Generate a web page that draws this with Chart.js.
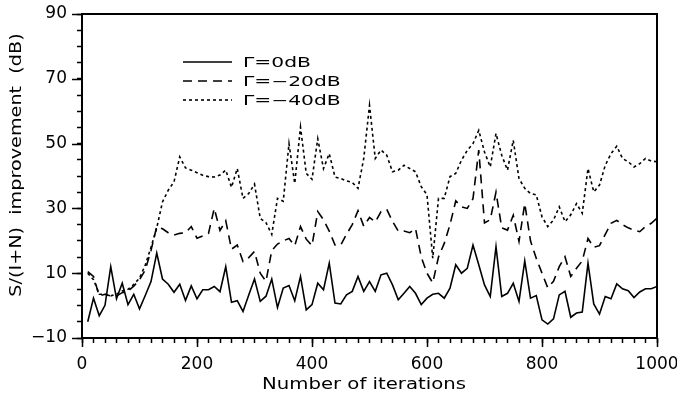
<!DOCTYPE html>
<html>
<head>
<meta charset="utf-8">
<script src="https://cdn.jsdelivr.net/npm/chart.js@4.4.1/dist/chart.umd.min.js"></script>
<style>
  html, body { margin: 0; padding: 0; background: #fff; }
  #wrap { width: 677px; height: 395px; }
</style>
</head>
<body>
<div id="wrap"><canvas id="improvChart" width="677" height="395"></canvas></div>
<script>
const iter_step = 10
const series_labels = ['\u0393=0dB', '\u0393=\u221220dB', '\u0393=\u221240dB']

const gain_0db = [
    -5, 2.3, -3.1, 0.1, 12, 2.1, 6.9, 0.3, 3.5, -1,
    3.1, 7.4, 16.2, 8.2, 6.6, 4.1, 6.6, 1.6, 6.1, 2.1,
    4.9, 4.9, 5.9, 4.3, 12, 1.0, 1.5, -1.8, 3.3, 8.2,
    1.3, 2.9, 8.2, -0.6, 5.4, 6.2, 1.5, 9.0, -1.3, 0.3,
    6.9, 4.9, 13.1, 0.8, 0.5, 3.3, 4.4, 9.0, 4.4, 7.4,
    4.4, 9.5, 10, 6.4, 1.8, 3.8, 5.9, 3.8, 0.3, 2.3,
    3.5, 3.8, 2.3, 5.4, 12.6, 10, 11.5, 18.7, 12.6, 6.4,
    2.8, 18.2, 2.8, 3.8, 6.9, 1.3, 13.8, 2.3, 3.1, -4.4,
    -5.7, -4.1, 3.3, 4.4, -3.6, -2.3, -2.0, 13.1, 0.5, -2.6,
    2.8, 2.1, 6.7, 5.2, 4.6, 2.5, 4.2, 5.2, 5.2, 5.9
]

const gain_20db = [
    10.5, 9, 3, 3.5, 3, 3, 4, 4.5, 6, 8,
    11, 17, 24.4, 23.7, 22.5, 21.8, 22.3, 22.5, 24.4, 20.8,
    21.5, 22.3, 30, 23.2, 26.2, 17.4, 18.7, 13.6, 14.8, 16.7,
    10, 7.5, 17, 19, 20, 20.7, 18.5, 24.4, 20.5, 18.5,
    29, 26.5, 23, 18.7, 18.7, 22, 25, 29.3, 24.5, 27.2,
    25.8, 29, 29.7, 26, 23, 23, 22.5, 23.8, 15, 10,
    7, 15, 19.2, 25, 32.3, 30.5, 30, 33, 48, 25.5,
    26.5, 35, 24, 23.3, 27.9, 19.8, 31.5, 20, 14.6, 10,
    5.5, 7.5, 12, 15.1, 9, 11.5, 13.8, 20.7, 18, 18.5,
    22, 25.4, 26.3, 25, 24, 23.3, 22.8, 24.4, 25.4, 27
]

const gain_40db = [
    10, 8, 3.5, 3.5, 3, 3.5, 4.5, 5, 6.5, 8.5,
    12.5, 18, 24, 32, 35.6, 38.2, 45.9, 42.5, 41.8, 41,
    40.2, 39.8, 39.7, 40.3, 41.8, 36.5, 42.3, 33.1, 34.6, 37.5,
    26.9, 25.6, 22, 33.1, 32.2, 50, 37.7, 55.1, 40.8, 39,
    51.5, 42.3, 46.9, 39.7, 39.2, 38.5, 38, 36.2, 45.4, 61.8,
    45.4, 48, 46.4, 41.3, 41.8, 43.3, 42.3, 41.3, 36.7, 34.2,
    14.6, 33.1, 33.1, 39.8, 40.8, 44.9, 47.9, 50, 54.1, 47.4,
    42.8, 53.1, 46.4, 41.8, 51, 39.2, 36.2, 34.6, 34.2, 27.4,
    24.4, 26.4, 30.5, 25.9, 28, 31.5, 28.5, 42.3, 35.1, 37.2,
    43.3, 46.9, 49.2, 45.4, 44.4, 42.8, 43.8, 45.4, 44.6, 44.4
]

const iterations = gain_0db.map((_, i) => (i + 1) * iter_step)
const to_points = vals => vals.map((v, i) => ({x: iterations[i], y: v}))

const FONT = 'DejaVu Sans'
const X_MIN = 0, X_MAX = 1000, X_MINOR = 20, X_MAJOR = 200
const Y_MIN = -10, Y_MAX = 90, Y_MINOR = 5, Y_MAJOR = 20

// text in the scan is wider than any installed face, so stretch it
function wide_text(ctx, text, x, y, sx, align)
{
    ctx.save()
    ctx.translate(x, y)
    ctx.scale(sx, 1)
    ctx.textAlign = align
    ctx.fillText(text, 0, 0)
    ctx.restore()
}

const paper = {
    id: 'paper',
    afterDraw(chart) {
        const {ctx, chartArea: a, scales: {x, y}} = chart
        ctx.save()
        ctx.setLineDash([])
        ctx.strokeStyle = '#000'
        ctx.fillStyle = '#000'

        // frame
        ctx.lineWidth = 2
        ctx.strokeRect(a.left, a.top, a.right - a.left, a.bottom - a.top)

        // the library draws the short ticks, the labelled ones get longer
        ctx.lineWidth = 1.5
        ctx.beginPath()
        for (let v = Y_MIN; v <= Y_MAX; v += Y_MAJOR) {
            const py = Math.round(y.getPixelForValue(v)) + 0.5
            ctx.moveTo(a.left, py)
            ctx.lineTo(a.left - 10, py)
        }
        for (let v = X_MIN; v <= X_MAX; v += X_MAJOR) {
            const px = Math.round(x.getPixelForValue(v)) + 0.5
            ctx.moveTo(px, a.bottom)
            ctx.lineTo(px, a.bottom + 9)
        }
        ctx.stroke()

        // axis titles
        ctx.textBaseline = 'middle'
        ctx.font = `16px "${FONT}"`
        wide_text(ctx, 'Number of iterations', 364, 385, 1.23, 'center')
        ctx.save()
        ctx.translate(17, 165)
        ctx.rotate(-Math.PI / 2)
        wide_text(ctx, 'S/(I+N)  improvement  (dB)', 0, 0, 1.2, 'center')
        ctx.restore()

        // legend
        ctx.font = `13.5px "${FONT}"`
        chart.data.datasets.forEach((ds, i) => {
            const ly = 62 + i * 19
            ctx.save()
            ctx.lineWidth = ds.borderWidth
            ctx.setLineDash(ds.borderDash)
            ctx.beginPath()
            ctx.moveTo(183, ly)
            ctx.lineTo(232, ly)
            ctx.stroke()
            ctx.restore()
            wide_text(ctx, ds.label, 243, ly + 1, 1.5, 'left')
        })
        ctx.restore()
    }
}

const tick_grid = {
    display: true,
    drawOnChartArea: false,
    drawTicks: true,
    tickLength: 5,
    tickWidth: 1.5,
    tickColor: '#000'
}

const ctx_improv = document.getElementById('improvChart').getContext('2d')
const improvChart = new Chart(ctx_improv, {
    type: 'line',
    data: {
        datasets: [
            {
                label: series_labels[0],
                data: to_points(gain_0db),
                borderColor: '#000',
                borderWidth: 1.6,
                borderDash: []
            },
            {
                label: series_labels[1],
                data: to_points(gain_20db),
                borderColor: '#000',
                borderWidth: 1.6,
                borderDash: [9, 6]
            },
            {
                label: series_labels[2],
                data: to_points(gain_40db),
                borderColor: '#000',
                borderWidth: 1.6,
                borderDash: [3, 3]
            }
        ]
    },
    options: {
        responsive: false,
        animation: false,
        devicePixelRatio: 1,
        elements: {
            point: {radius: 0},
            line: {tension: 0}
        },
        layout: {
            padding: {top: 14, right: 20, left: 0, bottom: 0}
        },
        plugins: {
            legend: {display: false},
            tooltip: {enabled: false}
        },
        scales: {
            x: {
                type: 'linear',
                min: X_MIN,
                max: X_MAX,
                grid: tick_grid,
                border: {display: false},
                ticks: {
                    stepSize: X_MINOR,
                    autoSkip: false,
                    maxRotation: 0,
                    padding: 11,
                    color: '#000',
                    font: {family: FONT, size: 17},
                    callback: v => v % X_MAJOR === 0 ? String(v) : ''
                },
                afterFit: s => {
                    s.height = 57
                    s.paddingLeft = 0
                    s.paddingRight = 0
                }
            },
            y: {
                min: Y_MIN,
                max: Y_MAX,
                grid: tick_grid,
                border: {display: false},
                ticks: {
                    stepSize: Y_MINOR,
                    autoSkip: false,
                    padding: 10,
                    color: '#000',
                    font: {family: FONT, size: 17},
                    callback: v => (v - Y_MIN) % Y_MAJOR === 0 ? (v < 0 ? '\u2212' + Math.abs(v) : String(v)) : ''
                },
                afterFit: s => {
                    s.width = 82
                    s.paddingTop = 0
                    s.paddingBottom = 0
                }
            }
        }
    },
    plugins: [paper]
})
</script>
</body>
</html>
